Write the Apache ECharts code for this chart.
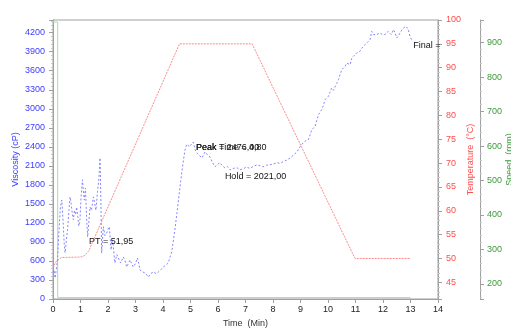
<!DOCTYPE html>
<html>
<head>
<meta charset="utf-8">
<script src="https://cdn.jsdelivr.net/npm/echarts@6/dist/echarts.min.js"></script>
<style>
  html, body { margin: 0; padding: 0; background: #fff; }
  #main { width: 511px; height: 328px; }
</style>
</head>
<body>
<div id="main"></div>
<script>
// time (min) / viscosity (cP)
var viscTime = [0.00,0.04,0.08,0.11,0.16,0.22,0.27,0.32,0.37,0.41,0.44,0.48,0.53,0.58,0.62,0.66,0.70,0.74,0.78,0.82,
    0.86,0.90,0.94,0.98,1.02,1.07,1.10,1.14,1.18,1.22,1.26,1.30,1.35,1.40,1.47,1.52,1.56,1.62,1.67,1.71,
    1.74,1.77,1.83,1.89,1.95,2.00,2.05,2.11,2.17,2.25,2.32,2.38,2.46,2.56,2.62,2.68,2.74,2.80,2.86,2.92,
    3.00,3.07,3.12,3.16,3.25,3.35,3.47,3.55,3.65,3.75,3.83,3.92,4.01,4.10,4.19,4.25,4.32,4.38,4.45,4.55,
    4.64,4.73,4.80,4.86,4.91,4.97,5.03,5.10,5.17,5.24,5.33,5.42,5.48,5.53,5.62,5.71,5.80,5.89,5.98,6.07,
    6.16,6.25,6.34,6.44,6.55,6.69,6.80,6.91,7.03,7.16,7.28,7.42,7.53,7.64,7.76,7.89,8.02,8.14,8.25,8.36,
    8.50,8.62,8.75,8.87,8.98,9.09,9.20,9.28,9.35,9.41,9.47,9.53,9.60,9.65,9.71,9.77,9.83,9.89,9.95,10.01,
    10.07,10.13,10.19,10.25,10.32,10.38,10.44,10.50,10.56,10.62,10.68,10.74,10.80,10.86,10.92,11.04,11.10,11.16,11.22,11.28,
    11.35,11.41,11.47,11.53,11.59,11.65,11.71,11.77,11.83,11.89,11.98,12.07,12.13,12.19,12.25,12.30,12.38,12.44,12.50,12.56,
    12.62,12.68,12.74,12.84,12.92,12.98,13.04,13.10];
var viscValues = [420,460,330,300,600,1100,1450,1560,1200,850,730,900,1100,1400,1610,1500,1350,1250,1400,1330,
    1450,1300,1150,1250,1600,1880,1720,1560,1750,1300,980,1200,1450,1400,1610,1500,1400,1700,1900,2225,
    1600,726,1140,1000,1040,1100,1140,774,930,568,700,726,568,663,600,505,560,616,560,505,
    560,647,560,458,430,410,347,400,426,400,426,460,505,530,568,580,750,930,1150,1514,
    1850,2150,2350,2440,2460,2400,2440,2476,2350,2300,2260,2225,2280,2320,2270,2240,2150,2085,2120,2150,
    2100,2070,2090,2037,2060,2070,2040,2050,2080,2060,2090,2116,2100,2085,2110,2116,2130,2150,2140,2165,
    2190,2225,2270,2320,2400,2460,2500,2510,2590,2668,2650,2721,2830,2905,2880,2984,3050,3142,3120,3195,
    3260,3327,3290,3300,3400,3458,3540,3616,3600,3669,3720,3748,3695,3790,3826,3879,3860,3905,3950,3984,
    4000,4037,4060,4090,4221,4170,4180,4170,4190,4195,4170,4170,4200,4221,4190,4170,4248,4200,4116,4150,
    4195,4240,4274,4300,4248,4142,4090,4085];

// temperature profile (°C)
var tempTime   = [0, 0.1, 0.3, 1.0, 1.15, 1.3, 4.6, 7.24, 10.98, 13.0];
var tempValues = [48, 49.3, 50.2, 50.3, 50.6, 51.6, 95, 95, 50, 50];

// paddle speed (rpm)
var speedTime   = [0, 0.17, 0.17, 13.0];
var speedValues = [960, 960, 160, 160];

var notes = [
    { t: 1.31, v: 899,  text: 'PT = 51,95' },
    { t: 5.2,  v: 2393, text: 'Peak = 2476,00' },
    { t: 5.2,  v: 2393, text: 'Peak Time = 4,80' },
    { t: 6.25, v: 1929, text: 'Hold = 2021,00' },
    { t: 13.1, v: 3995, text: 'Final =' }
];

function pairs(xs, ys) {
    return xs.map(function (x, i) { return [x, ys[i]]; });
}
function plain(v) { return String(v); }

var font = 'Liberation Sans';
var grey = '#a0a0a0';
var blue = '#3c3cff', red = '#ff4d4d', green = '#3c9a3c';

var myChart = echarts.init(document.getElementById('main'), null, { renderer: 'canvas' });
var option = {
    animation: false,
    textStyle: { fontFamily: font },
    grid: {
        left: 53, right: 73, top: 20, bottom: 29,
        containLabel: false,
        outerBoundsMode: 'none',
        show: true, borderColor: grey, borderWidth: 1
    },
    xAxis: {
        type: 'value',
        min: 0, max: 14, interval: 1,
        name: 'Time  (Min)',
        nameLocation: 'middle',
        nameGap: 20,
        nameMoveOverlap: false,
        nameTextStyle: { color: '#333', fontSize: 9, fontFamily: font },
        axisLine: { lineStyle: { color: grey } },
        axisTick: { length: 4, lineStyle: { color: grey } },
        axisLabel: { color: '#222', fontSize: 9, margin: 6, fontFamily: font, formatter: plain },
        splitLine: { show: false }
    },
    yAxis: [
        {
            type: 'value',
            position: 'left',
            min: 0, max: 4400,
            minInterval: 300, maxInterval: 300, splitNumber: 14,
            name: 'Viscosity (cP)',
            nameLocation: 'middle',
            nameGap: 33,
            nameMoveOverlap: false,
            nameTextStyle: { color: blue, fontSize: 9, fontFamily: font },
            axisLine: { show: true, lineStyle: { color: grey } },
            axisTick: { show: true, length: 4, lineStyle: { color: grey } },
            minorTick: { show: true, splitNumber: 5, length: 2, lineStyle: { color: '#c8c8c8' } },
            axisLabel: { color: blue, fontSize: 9, margin: 8, showMaxLabel: false, fontFamily: font, formatter: plain },
            splitLine: { show: false }
        },
        {
            type: 'value',
            position: 'right',
            min: 41.5, max: 100,
            minInterval: 5, maxInterval: 5, splitNumber: 12,
            name: 'Temperature  (°C)',
            nameLocation: 'middle',
            nameRotate: 90,
            nameGap: 28,
            nameMoveOverlap: false,
            nameTextStyle: { color: red, fontSize: 9, fontFamily: font },
            axisLine: { show: true, lineStyle: { color: grey } },
            axisTick: { show: true, length: 4, lineStyle: { color: grey } },
            minorTick: { show: true, splitNumber: 5, length: 2, lineStyle: { color: '#c8c8c8' } },
            axisLabel: { color: red, fontSize: 9, margin: 8, showMinLabel: false, fontFamily: font, formatter: plain },
            splitLine: { show: false }
        },
        {
            type: 'value',
            position: 'right',
            offset: 42,
            min: 156, max: 966,
            minInterval: 100, maxInterval: 100, splitNumber: 8,
            name: 'Speed  (rpm)',
            nameLocation: 'middle',
            nameRotate: 90,
            nameGap: 25,
            nameMoveOverlap: false,
            nameTextStyle: { color: green, fontSize: 9, fontFamily: font },
            axisLine: { show: true, lineStyle: { color: grey } },
            axisTick: { show: true, length: 4, lineStyle: { color: grey } },
            minorTick: { show: true, splitNumber: 5, length: 2, lineStyle: { color: '#c8c8c8' } },
            axisLabel: { color: green, fontSize: 9, margin: 7, showMinLabel: false, showMaxLabel: false, fontFamily: font, formatter: plain },
            splitLine: { show: false }
        }
    ],
    series: [
        {
            name: 'Speed',
            type: 'line',
            yAxisIndex: 2,
            showSymbol: false,
            data: pairs(speedTime, speedValues),
            lineStyle: { color: '#a9dca9', width: 1 }
        },
        {
            name: 'Temperature',
            type: 'line',
            yAxisIndex: 1,
            showSymbol: false,
            data: pairs(tempTime, tempValues),
            lineStyle: { color: '#ff8a8a', width: 1, type: [2, 1] }
        },
        {
            name: 'Viscosity',
            type: 'line',
            yAxisIndex: 0,
            showSymbol: false,
            data: pairs(viscTime, viscValues),
            lineStyle: { color: '#8484ff', width: 1, type: [2, 2] },
            markPoint: {
                symbol: 'circle',
                symbolSize: 0,
                silent: true,
                label: {
                    show: true,
                    position: 'right',
                    distance: 0,
                    color: '#111',
                    fontSize: 9,
                    fontFamily: font
                },
                data: notes.map(function (n) {
                    return { coord: [n.t, n.v], label: { formatter: n.text } };
                })
            }
        }
    ]
};
myChart.setOption(option);
</script>
</body>
</html>
